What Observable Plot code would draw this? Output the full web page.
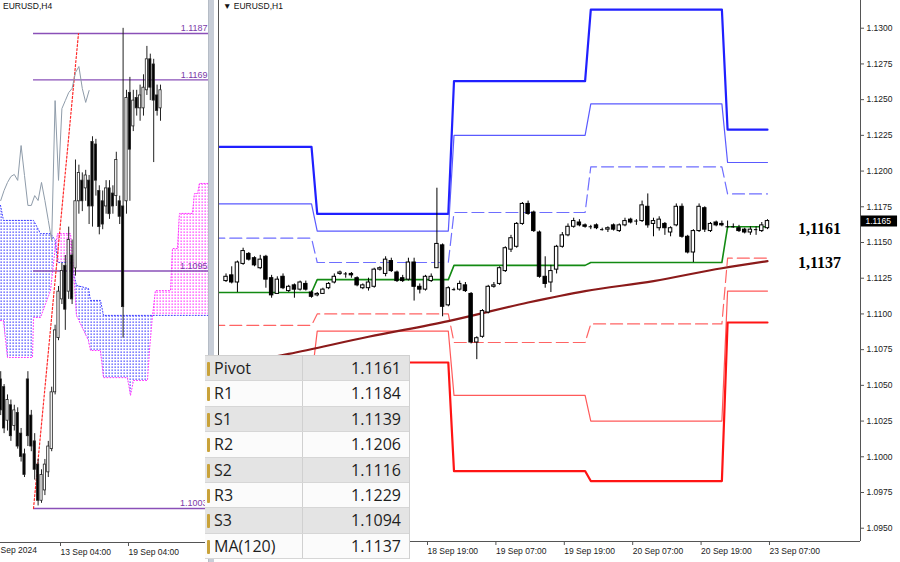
<!DOCTYPE html>
<html>
<head>
<meta charset="utf-8">
<script src="https://cdn.jsdelivr.net/npm/d3@7"></script>
<script src="https://cdn.jsdelivr.net/npm/@observablehq/plot@0.6"></script>
<style>
  html,body{margin:0;padding:0;background:#fff;}
  #wrap{position:relative;width:900px;height:562px;overflow:hidden;background:#fff;font-family:"Liberation Sans",Arial,sans-serif;}
  #left,#right{position:absolute;top:0;}
  #left{left:0;} #right{left:217px;}
  #sep{position:absolute;left:208px;top:0;width:5px;height:562px;background:#c8ced8;border-left:1px solid #b5bcc6;}
  .ttl{position:absolute;top:1px;font-size:8.5px;color:#111;white-space:nowrap;}
  #tbl{position:absolute;left:205px;top:355px;width:204px;background:#fff;border-top:1px solid #d0d0d0;border-right:1px solid #d0d0d0;}
  .row{position:relative;display:flex;height:25.4px;box-sizing:border-box;border-bottom:1px solid #d6d6d6;font-family:"Open Sans",sans-serif;font-size:16px;color:#1e1e1e;line-height:24px;}
  .row.g{background:#e4e4e4;} .row.w{background:#fbfbfb;}
  .lab{width:97px;padding-left:9px;box-sizing:border-box;}
  .val{flex:1;text-align:right;padding-right:8px;border-left:1px solid #d0d0d0;box-sizing:border-box;}
  .ico{position:absolute;left:2px;top:6px;width:3px;height:14px;background:#c9a23a;border-radius:1px;}
</style>
</head>
<body>
<div id="wrap">
  <div id="left"></div>
  <div id="sep"></div>
  <div id="right"></div>
  <div class="ttl" style="left:3px">EURUSD,H4</div>
  <div class="ttl" style="left:223px">&#9660; EURUSD,H1</div>
  <div id="tbl"></div>
</div>
<script>
// ======================= DATA =======================
// ---- Right panel: EURUSD H1 ----
const h1StartIdx = -35; // bar index of first candle (0 = 18 Sep 19:00)
const h1Open  = [1.1123,1.1127,1.1122,1.1135,1.1142,1.1139,1.1132,1.1140,1.1125,1.1114,1.1126,1.1116,1.1120,1.1117,1.1121,1.1115,1.1113,1.1114,1.1118,1.1122,1.1128,1.1128,1.1128,1.1125,1.1118,1.1118,1.1119,1.1131,1.1128,1.1137,1.1129,1.1125,1.1124,1.1136,1.1119,
                 1.1117,1.1123,1.1132,1.1148,1.1106,1.1117,1.1117,1.1120,1.1114,1.1080,1.1084,1.1101,1.1119,1.1121,1.1130,1.1145,1.1147,1.1163,1.1177,1.1171,1.1157,1.1126,1.1122,1.1131,1.1147,1.1155,
                 1.1161,1.1164,1.1162,1.1161,1.1162,1.1159,1.1159,1.1162,1.1158,1.1162,1.1166,1.1165,1.1165,1.1175,1.1163,1.1160,1.1163,1.1157,1.1162,1.1175,1.1154,1.1143,1.1158,1.1174,1.1158,1.1164,1.1163,
                 1.1161,1.1161,1.1160,1.1159,1.1157,1.1159,1.1158,1.1160];
const h1High  = [1.1128,1.1133,1.1137,1.1146,1.1143,1.1140,1.1141,1.1141,1.1127,1.1126,1.1128,1.1120,1.1121,1.1123,1.1123,1.1116,1.1115,1.1118,1.1122,1.1128,1.1130,1.1129,1.1129,1.1126,1.1121,1.1125,1.1132,1.1133,1.1140,1.1139,1.1130,1.1127,1.1139,1.1139,1.1121,
                 1.1127,1.1128,1.1188,1.1149,1.1119,1.1118,1.1123,1.1122,1.1115,1.1084,1.1103,1.1120,1.1122,1.1133,1.1147,1.1155,1.1164,1.1178,1.1179,1.1172,1.1158,1.1140,1.1134,1.1148,1.1157,1.1163,
                 1.1167,1.1166,1.1163,1.1162,1.1163,1.1160,1.1161,1.1163,1.1163,1.1167,1.1167,1.1166,1.1179,1.1184,1.1167,1.1168,1.1164,1.1161,1.1177,1.1177,1.1155,1.1159,1.1177,1.1175,1.1164,1.1165,1.1165,
                 1.1165,1.1163,1.1162,1.1160,1.1161,1.1161,1.1164,1.1166];
const h1Low   = [1.1122,1.1121,1.1115,1.1134,1.1137,1.1133,1.1131,1.1118,1.1111,1.1114,1.1117,1.1115,1.1111,1.1116,1.1116,1.1111,1.1112,1.1114,1.1117,1.1121,1.1127,1.1125,1.1125,1.1119,1.1117,1.1116,1.1118,1.1130,1.1126,1.1129,1.1122,1.1122,1.1123,1.1109,1.1114,
                 1.1116,1.1122,1.1132,1.1098,1.1105,1.1116,1.1116,1.1115,1.1079,1.1068,1.1083,1.1100,1.1118,1.1120,1.1129,1.1143,1.1146,1.1162,1.1169,1.1157,1.1125,1.1118,1.1115,1.1128,1.1146,1.1154,
                 1.1160,1.1161,1.1160,1.1159,1.1159,1.1158,1.1157,1.1158,1.1157,1.1161,1.1163,1.1162,1.1164,1.1160,1.1154,1.1158,1.1155,1.1154,1.1161,1.1153,1.1142,1.1136,1.1157,1.1157,1.1157,1.1161,1.1161,
                 1.1160,1.1160,1.1157,1.1156,1.1155,1.1155,1.1157,1.1159];
const h1Close = [1.1126,1.1122,1.1136,1.1144,1.1138,1.1134,1.1138,1.1124,1.1113,1.1124,1.1118,1.1119,1.1117,1.1122,1.1117,1.1112,1.1114,1.1117,1.1121,1.1126,1.1129,1.1128,1.1127,1.1120,1.1120,1.1122,1.1131,1.1132,1.1138,1.1130,1.1123,1.1123,1.1136,1.1119,1.1117,
                 1.1126,1.1126,1.1149,1.1105,1.1118,1.1117,1.1121,1.1116,1.1080,1.1083,1.1102,1.1119,1.1120,1.1132,1.1146,1.1153,1.1163,1.1177,1.1170,1.1158,1.1126,1.1121,1.1130,1.1147,1.1155,1.1161,
                 1.1165,1.1162,1.1161,1.1161,1.1160,1.1159,1.1160,1.1159,1.1162,1.1165,1.1164,1.1165,1.1176,1.1162,1.1165,1.1166,1.1160,1.1160,1.1175,1.1154,1.1143,1.1158,1.1175,1.1159,1.1163,1.1162,1.1162,
                 1.1161,1.1161,1.1158,1.1157,1.1159,1.1159,1.1162,1.1165];

// Daily pivot levels: days 17, 18, 19, 20, 23 Sep (first bar index of each day)
const dayStartIdx = [-36, -19, 5, 29, 53];
const lastBarIdx = 60;
const levelR3 = [1.1217, 1.1170, 1.1263, 1.1313, 1.1229];
const levelR2 = [1.1177, 1.1158, 1.1225, 1.1247, 1.1206];
const levelR1 = [1.1153, 1.1136, 1.1171, 1.1203, 1.1184];
const levelP  = [1.1115, 1.1124, 1.1134, 1.1136, 1.1161];
const levelS1 = [1.1092, 1.1100, 1.1080, 1.1093, 1.1139];
const levelS2 = [1.1054, 1.1088, 1.1043, 1.1025, 1.1116];
const levelS3 = [1.1031, 1.1066, 1.0990, 1.0983, 1.1094];

// MA(120) read points
const maIdx = [-36, -24, -10, 4, 18, 28, 40, 52, 60];
const maVal = [1.1063, 1.1072, 1.1084, 1.1095, 1.1108, 1.1116, 1.1123, 1.1132, 1.1137];

const rightPriceTicks = [1.0950,1.0975,1.1000,1.1025,1.1050,1.1075,1.1100,1.1125,1.1150,1.1175,1.1200,1.1225,1.1250,1.1275,1.1300];
const rightTimeTickIdx = [0, 12, 24, 36, 48, 60];
const rightTimeTickLabels = ["18 Sep 19:00","19 Sep 07:00","19 Sep 19:00","20 Sep 07:00","20 Sep 19:00","23 Sep 07:00"];
const bigLabels = [{v: 1.1161, t: "1,1161"}, {v: 1.1137, t: "1,1137"}];

// ---- Table ----
const tableLabels = ["Pivot","R1","S1","R2","S2","R3","S3","MA(120)"];
const tableValues = ["1.1161","1.1184","1.1139","1.1206","1.1116","1.1229","1.1094","1.1137"];

// ---- Left panel: EURUSD H4 ----
const h4StartIdx = -17; // 0 = 13 Sep 04:00
const h4Open  = [1.1053,1.1050,1.1037,1.1043,1.1035,1.1040,1.1032,1.1024,1.1053,1.1039,1.1029,1.1020,1.1006,1.1010,1.1017,1.1026,1.1048,
                 1.1069,1.1084,1.1097,1.1087,1.1101,1.1096,1.1122,1.1130,1.1127,1.1130,1.1145,1.1144,1.1126,1.1122,1.1120,1.1127,1.1125,1.1124,1.1122,1.1120,
                 1.1122,1.1164,1.1151,1.1162,1.1158,1.1158,1.1165,1.1177,1.1175,1.1163,1.1158];
const h4High  = [1.1056,1.1051,1.1047,1.1045,1.1043,1.1042,1.1034,1.1026,1.1056,1.1041,1.1032,1.1022,1.1018,1.1022,1.1029,1.1050,1.1074,
                 1.1089,1.1098,1.1101,1.1112,1.1107,1.1138,1.1136,1.1133,1.1134,1.1132,1.1147,1.1146,1.1128,1.1126,1.1130,1.1130,1.1128,1.1141,1.1124,1.1189,
                 1.1165,1.1170,1.1165,1.1165,1.1167,1.1171,1.1182,1.1179,1.1177,1.1167,1.1167];
const h4Low   = [1.1039,1.1032,1.1033,1.1029,1.1033,1.1026,1.1021,1.1015,1.1027,1.1025,1.1014,1.1004,1.1005,1.1008,1.1015,1.1025,1.1047,
                 1.1068,1.1082,1.1072,1.1084,1.1082,1.1093,1.1117,1.1118,1.1122,1.1113,1.1112,1.1124,1.1109,1.1111,1.1117,1.1115,1.1117,1.1120,1.1113,1.1069,
                 1.1117,1.1122,1.1149,1.1155,1.1153,1.1155,1.1163,1.1161,1.1137,1.1155,1.1153];
const h4Close = [1.1041,1.1034,1.1045,1.1031,1.1041,1.1027,1.1023,1.1016,1.1031,1.1027,1.1018,1.1006,1.1016,1.1020,1.1027,1.1048,1.1072,
                 1.1087,1.1095,1.1080,1.1107,1.1084,1.1122,1.1133,1.1122,1.1132,1.1120,1.1120,1.1130,1.1112,1.1113,1.1127,1.1117,1.1120,1.1138,1.1116,1.1081,
                 1.1162,1.1142,1.1161,1.1158,1.1163,1.1166,1.1177,1.1166,1.1161,1.1157,1.1165];

// Ichimoku cloud (bar index, Senkou Span A, Senkou Span B)
const cloudIdx   = [-17.06,-16.18,-15.0,-7.65,-7.35,-5.29,-2.35,-0.88,-0.29,3.53,4.41,5.29,8.82,9.41,12.35,13.24,20.29,21.18,22.06,26.18,26.76,27.65,28.53,32.94,33.53,35.0,35.59,39.41,40.0,40.88,41.47,44.12];
const cloudSpanA = [1.11204,1.11146,1.11146,1.11146,1.11146,1.11095,1.11095,1.11068,1.10983,1.10983,1.10944,1.10894,1.10882,1.10836,1.10836,1.10778,1.10778,1.10778,1.10778,1.10778,1.10778,1.10778,1.10778,1.10778,1.10778,1.10778,1.10778,1.10778,1.10778,1.10778,1.10778,1.10778];
const cloudSpanB = [1.10758,1.10758,1.10615,1.10615,1.10770,1.10770,1.10874,1.11049,1.11095,1.11095,1.10960,1.10778,1.10681,1.10642,1.10642,1.10537,1.10537,1.10468,1.10526,1.10526,1.10642,1.10778,1.10874,1.10874,1.11037,1.11037,1.11173,1.11173,1.11250,1.11250,1.11289,1.11289];

// Chikou span (grey line)
const chikouStartIdx = -17;
const chikouVal = [1.11223,1.11262,1.11293,1.11316,1.11324,1.11301,1.11436,1.11320,1.11204,1.11204,1.11242,1.11223,1.11293,1.11223,1.11146,1.11068,1.11610,1.11301,1.11579,1.11610,1.11641,1.11657,1.11719,1.11742,1.11657,1.11603,1.11649];

// Horizontal levels and trend line
const fiboLevels = [1.1187, 1.1169, 1.1095, 1.1003];
const fiboStartIdx = -7.35;
const trendIdx = [-7.35, 5.88];
const trendVal = [1.1003, 1.1187];

const leftTimeTickIdx = [0, 20];
const leftTimeTickLabels = ["13 Sep 04:00", "19 Sep 04:00"];
const leftFirstLabel = "Sep 2024";

// ======================= LAYOUT =======================
const rightXDomain = [-36.32, 76.32];
const rightYDomain = [1.09407, 1.13194];
const leftXDomain = [-17.06, 44.12];
const leftYDomain = [1.098983, 1.119978];
const fontStyle = {background: "transparent", fontFamily: "'Liberation Sans', Arial, sans-serif", fontSize: "8.5px", color: "#1a1a1a"};

// ======================= RIGHT PLOT =======================
const h1 = h1Open.map((o, k) => ({i: h1StartIdx + k, o, h: h1High[k], l: h1Low[k], c: h1Close[k]}));
const currentPrice = h1Close[h1Close.length - 1];

function stepRows(values) {
  const rows = [];
  values.forEach((v, d) => {
    const start = d === 0 ? rightXDomain[0] - 1 : dayStartIdx[d];
    const end = d < values.length - 1 ? dayStartIdx[d + 1] - 1 : lastBarIdx;
    rows.push({i: start, v}, {i: end, v});
  });
  return rows;
}
const levelStyles = [
  {vals: levelR3, stroke: "#2020ff", w: 2.2, dash: null},
  {vals: levelR2, stroke: "#5a5aff", w: 1.2, dash: null},
  {vals: levelR1, stroke: "#6e6eff", w: 1.2, dash: "12,5"},
  {vals: levelP,  stroke: "#138a13", w: 1.6, dash: null},
  {vals: levelS1, stroke: "#ff6464", w: 1.2, dash: "12,5"},
  {vals: levelS2, stroke: "#ff5a5a", w: 1.2, dash: null},
  {vals: levelS3, stroke: "#ff1414", w: 2.2, dash: null}
];
const maRows = maIdx.map((i, k) => ({i, v: maVal[k]}));
const bw = 0.3;

const rightSvg = Plot.plot({
  width: 683, height: 562,
  marginLeft: 1, marginRight: 40, marginTop: 0, marginBottom: 21,
  x: {domain: rightXDomain, label: null},
  y: {domain: rightYDomain, label: null},
  color: {type: "identity"},
  style: fontStyle,
  marks: [
    ...levelStyles.map(L => Plot.line(stepRows(L.vals), {x: "i", y: "v", stroke: L.stroke, strokeWidth: L.w, strokeDasharray: L.dash, clip: true})),
    Plot.line(maRows, {x: "i", y: "v", stroke: "#8b1a1a", strokeWidth: 2.2, curve: "monotone-x", clip: true}),
    Plot.ruleX(h1, {x: "i", y1: "l", y2: "h", stroke: "#000", strokeWidth: 1}),
    Plot.rect(h1.filter(d => Math.abs(d.o - d.c) >= 0.00005), {x1: d => d.i - bw, x2: d => d.i + bw, y1: "o", y2: "c", fill: d => d.c > d.o ? "#ffffff" : "#000000", stroke: "#000", strokeWidth: 1}),
    Plot.ruleY(h1.filter(d => Math.abs(d.o - d.c) < 0.00005), {y: "c", x1: d => d.i - bw, x2: d => d.i + bw, stroke: "#000", strokeWidth: 1}),
    Plot.ruleX([rightXDomain[0], rightXDomain[1]], {stroke: "#555"}),
    Plot.ruleY([rightYDomain[0]], {stroke: "#555"}),
    Plot.axisY(rightPriceTicks, {anchor: "right", label: null, tickSize: 3, tickPadding: 3, tickFormat: d => d.toFixed(4), stroke: "#555"}),
    Plot.axisX(rightTimeTickIdx, {anchor: "bottom", label: null, tickSize: 4, tickPadding: 2, textAnchor: "start", dx: 2, tickFormat: d => rightTimeTickLabels[rightTimeTickIdx.indexOf(d)], stroke: "#555"}),
    Plot.ruleY([currentPrice], {x1: () => rightXDomain[1] + 0.15, x2: () => rightXDomain[1] + 6.5, stroke: "#000", strokeWidth: 11}),
    Plot.text([currentPrice], {y: d => d, text: d => d.toFixed(4), frameAnchor: "right", textAnchor: "start", dx: 5, fill: "#fff"}),
    Plot.text(bigLabels, {y: "v", text: "t", frameAnchor: "right", textAnchor: "middle", dx: -41, dy: 2, fontFamily: "'Liberation Serif', 'Times New Roman', serif", fontWeight: "bold", fontSize: 16, fill: "#000"})
  ]
});
document.getElementById("right").appendChild(rightSvg);

// ======================= LEFT PLOT =======================
const h4 = h4Open.map((o, k) => ({i: h4StartIdx + k, o, h: h4High[k], l: h4Low[k], c: h4Close[k]}));
const cloud = cloudIdx.map((i, k) => ({i, a: cloudSpanA[k], b: cloudSpanB[k]}));
const chikou = chikouVal.map((p, k) => ({i: chikouStartIdx + k, p}));
const trend = trendIdx.map((i, k) => ({i, p: trendVal[k]}));
const bw4 = 0.33;

const leftSvg = Plot.plot({
  width: 208, height: 562,
  marginLeft: 0, marginRight: 0, marginTop: 0, marginBottom: 20,
  x: {domain: leftXDomain, label: null},
  y: {domain: leftYDomain, axis: null, label: null},
  color: {type: "identity"},
  style: fontStyle,
  marks: [
    Plot.areaY(cloud, {x: "i", y1: "a", y2: d => Math.min(d.a, d.b), fill: "url(#dotBlue)"}),
    Plot.areaY(cloud, {x: "i", y1: "b", y2: d => Math.min(d.a, d.b), fill: "url(#dotMag)"}),
    Plot.line(cloud, {x: "i", y: "a", stroke: "#3c3cff", strokeWidth: 1, strokeDasharray: "1,2"}),
    Plot.line(cloud, {x: "i", y: "b", stroke: "#ff33ff", strokeWidth: 1, strokeDasharray: "1,2"}),
    Plot.ruleY(fiboLevels, {y: d => d, x1: () => fiboStartIdx, x2: () => leftXDomain[1], stroke: "#8a50b8", strokeWidth: 1.3}),
    Plot.text(fiboLevels, {y: d => d, text: d => d.toFixed(4), frameAnchor: "right", textAnchor: "end", dx: -1, dy: -5, fill: "#7a3aa8", fontSize: 9}),
    Plot.line(trend, {x: "i", y: "p", stroke: "#ff2a2a", strokeWidth: 1.2, strokeDasharray: "2,2"}),
    Plot.line(chikou, {x: "i", y: "p", stroke: "#8f9caa", strokeWidth: 1}),
    Plot.ruleX(h4, {x: "i", y1: "l", y2: "h", stroke: "#222", strokeWidth: 1}),
    Plot.rect(h4, {x1: d => d.i - bw4, x2: d => d.i + bw4, y1: "o", y2: "c", fill: d => d.c > d.o ? "#ffffff" : "#000000", stroke: "#222", strokeWidth: 0.8}),
    Plot.ruleY([leftYDomain[0]], {stroke: "#555"}),
    Plot.axisX(leftTimeTickIdx, {anchor: "bottom", label: null, tickSize: 4, tickPadding: 2, textAnchor: "start", dx: 2, tickFormat: d => leftTimeTickLabels[leftTimeTickIdx.indexOf(d)], stroke: "#555"}),
    Plot.text([leftFirstLabel], {frameAnchor: "bottom-left", textAnchor: "start", dy: 10, dx: 0, text: d => d, fill: "#1a1a1a"})
  ]
});
(function addPatterns(svg){
  const ns = "http://www.w3.org/2000/svg";
  const defs = document.createElementNS(ns, "defs");
  defs.innerHTML = '<pattern id="dotBlue" width="3" height="3" patternUnits="userSpaceOnUse"><rect x="0.5" y="0.5" width="1.3" height="1.3" fill="#3c3cff"/></pattern>' +
                   '<pattern id="dotMag" width="3" height="3" patternUnits="userSpaceOnUse"><rect x="0.5" y="0.5" width="1.3" height="1.3" fill="#ff30ff"/></pattern>';
  svg.insertBefore(defs, svg.firstChild);
})(leftSvg);
document.getElementById("left").appendChild(leftSvg);

// ======================= TABLE =======================
const tbl = document.getElementById("tbl");
tableLabels.forEach((lab, k) => {
  const row = document.createElement("div");
  row.className = "row " + (k % 2 === 0 ? "g" : "w");
  row.innerHTML = '<span class="ico"></span><div class="lab">' + lab + '</div><div class="val">' + tableValues[k] + '</div>';
  tbl.appendChild(row);
});
</script>
</body>
</html>
